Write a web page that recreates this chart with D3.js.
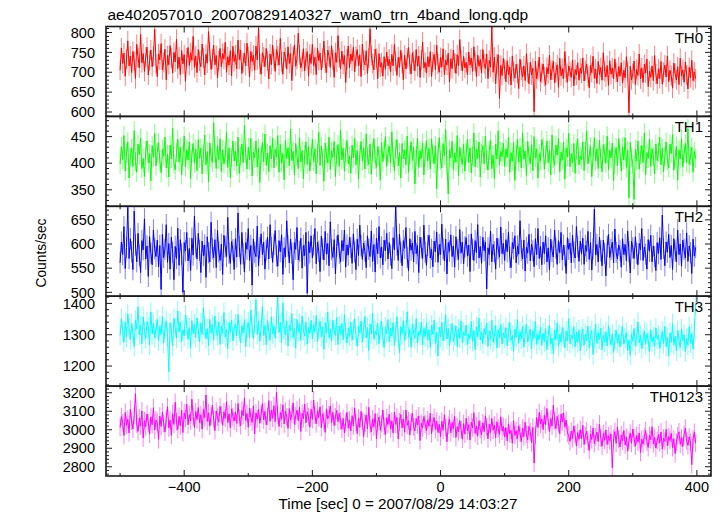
<!DOCTYPE html>
<html><head><meta charset="utf-8">
<script src="https://cdn.jsdelivr.net/npm/d3@7"></script>
<style>body{margin:0;background:#fff} text{font-family:"Liberation Sans",Arial,Helvetica,sans-serif;fill:#000}</style>
</head><body><svg id="c" width="723" height="516"></svg>
<script>
const chartTitle = "ae402057010_20070829140327_wam0_trn_4band_long.qdp";
const xLabel = "Time [sec] 0 = 2007/08/29 14:03:27";
const yLabel = "Counts/sec";
const timeStart = -500, binSize = 2;
const bandNames = ["TH0", "TH1", "TH2", "TH3", "TH0123"];
const bandColors = ["#ff0000", "#00ff00", "#0000ff", "#00ffff", "#ff00ff"];
const bandErrors = [25, 18, 22, 32, 48];
const yDomains = [[589, 815], [319, 488], [492, 678], [1136, 1423], [2750, 3236]];
const yMajorTicks = [[600, 650, 700, 750, 800], [350, 400, 450], [500, 550, 600, 650], [1200, 1300, 1400], [2800, 2900, 3000, 3100, 3200]];
const yMinorStep = [10, 10, 10, 20, 20];
const xDomain = [-522, 422];
const xTickLabels = [-400, -200, 0, 200, 400];
const xMinorTicks = [-500, -300, -100, 100, 300];

const th0 = [
705,761,722,748,690,733,779,716,741,699,752,728,684,770,737,711,795,724,747,702,738,763,693,729,756,714,740,808,721,689,
746,731,772,706,725,758,681,742,719,767,735,698,750,726,783,709,738,694,755,721,744,677,736,762,717,749,730,790,712,741,
699,757,728,714,771,736,693,745,723,802,751,707,734,768,719,742,686,729,760,713,747,733,775,700,739,718,754,691,765,727,
744,709,781,732,756,697,724,748,716,773,739,688,752,727,743,705,766,731,812,720,695,749,738,714,760,729,683,746,719,768,
734,702,757,741,718,785,726,695,751,737,708,764,722,747,679,740,769,715,733,798,744,711,727,759,703,736,752,690,745,722,
770,717,738,694,761,729,748,706,735,778,723,699,756,741,712,767,731,687,749,725,792,737,708,753,720,742,674,733,766,711,
746,728,763,701,739,757,716,744,689,771,730,718,754,697,736,809,742,722,706,758,735,684,747,713,724,690,739,707,751,716,
733,701,745,716,770,727,692,738,712,755,724,681,743,708,736,762,719,696,749,728,704,757,715,741,687,730,776,711,725,698,
739,714,752,689,726,745,707,768,721,700,737,713,759,694,731,718,748,675,734,709,756,723,697,744,716,782,729,703,740,711,
725,694,751,718,736,702,764,727,689,743,715,732,698,757,722,709,746,684,730,713,815,700,738,671,721,744,634,717,692,735,
708,676,729,694,713,668,741,702,685,720,697,659,733,705,688,716,679,747,699,671,725,693,710,601,728,684,704,738,676,697,
721,689,668,712,696,743,681,706,727,673,700,719,662,735,691,709,684,752,698,675,716,702,687,731,666,707,693,724,680,710,
697,736,678,704,721,690,661,718,699,740,685,708,672,727,694,712,680,749,702,688,717,667,729,695,711,683,733,700,676,714,
690,724,673,705,686,739,702,598,715,681,697,728,669,707,692,746,683,711,674,720,698,733,664,703,687,716,679,742,695,671,
709,684,727,670,700,718,688,741,676,705,692,660,723,697,681,714,669,735,690,706,675,726,693,658,712,686,730,679,701,684];

const th1 = [
398,431,407,452,385,419,440,372,412,428,394,461,403,383,436,416,447,390,409,375,424,442,401,418,367,433,411,456,395,420,
439,404,382,426,413,449,391,417,374,434,408,466,399,387,421,445,402,430,378,414,451,393,425,406,440,371,418,437,400,427,
386,444,409,428,380,416,453,397,422,365,438,411,402,476,419,390,433,407,446,384,425,399,414,458,392,429,373,410,442,404,
423,395,449,381,413,436,401,471,418,389,430,406,447,376,421,410,442,393,428,364,415,439,403,455,396,419,384,433,408,447,
391,426,412,452,383,435,401,418,369,443,409,429,395,464,405,422,378,437,414,390,448,402,424,371,416,440,398,431,385,412,
445,403,427,380,419,458,396,432,409,366,438,414,401,449,388,423,411,441,375,417,435,394,462,406,428,385,420,443,399,413,
381,434,410,447,397,424,370,416,441,404,429,389,455,412,398,436,379,421,446,407,392,431,415,368,439,403,426,450,394,418,
432,400,459,411,386,427,444,395,420,372,437,408,425,397,451,383,416,440,405,430,361,413,447,392,423,409,438,378,415,443,
404,428,389,446,417,399,433,352,421,448,406,391,437,414,463,396,342,425,410,441,388,419,402,452,376,430,411,398,436,385,
420,445,401,429,382,414,457,393,426,409,440,374,418,433,399,451,405,387,424,443,390,415,371,436,408,461,397,422,412,438,
394,427,411,449,383,420,404,439,368,416,445,402,430,391,457,408,423,377,441,414,399,435,386,450,410,427,372,418,404,444,
431,389,416,442,401,425,378,453,409,396,434,415,447,384,421,406,439,370,428,412,456,393,418,401,437,381,424,446,397,413,
407,440,386,422,461,399,417,431,375,412,448,404,427,390,443,409,384,435,419,400,451,388,424,410,438,367,415,429,395,446,
418,385,431,406,448,392,424,335,439,411,398,332,426,404,442,389,416,433,401,457,378,420,409,445,394,427,413,380,436,405,
421,449,397,428,384,413,440,406,391,436,418,454,387,410,432,368,425,408,446,393,419,437,401,465,398,414,430,383,422,409];

const th2 = [
561,604,578,636,549,593,676,570,611,584,547,668,598,563,622,577,541,607,588,652,569,596,533,615,581,557,629,590,574,608,
553,597,506,620,572,589,640,562,601,548,614,583,526,595,570,633,556,609,579,500,603,586,624,565,591,545,612,577,658,594,
569,622,587,541,606,576,598,531,615,582,563,645,590,572,609,551,628,584,566,600,537,618,594,574,655,581,560,605,588,547,
611,573,664,595,558,624,580,542,603,589,632,566,597,515,610,583,574,637,555,592,621,578,604,548,587,614,569,640,593,562,
599,628,575,554,607,584,619,537,592,573,648,596,561,610,581,526,603,589,634,567,585,612,550,597,576,624,498,605,582,617,
571,598,632,559,604,585,543,616,590,567,626,579,601,555,646,588,572,609,538,595,619,581,563,607,586,629,552,598,577,614,
593,560,621,584,547,610,576,639,596,568,602,585,551,617,589,574,627,564,599,542,612,580,636,571,594,557,608,586,622,569,
603,577,549,613,588,683,598,566,620,583,555,607,591,634,572,545,611,587,602,563,626,580,597,541,614,592,570,639,583,556,
597,618,571,589,553,606,584,625,562,599,578,641,590,565,610,538,603,585,619,574,596,552,615,588,568,630,581,604,559,594,
613,575,598,543,621,589,566,607,582,640,571,595,560,614,586,604,507,592,578,627,563,599,584,548,612,590,573,635,580,601,
566,609,584,625,572,551,603,590,617,561,596,579,648,587,569,608,544,593,581,620,565,600,586,553,611,578,632,570,595,557,
604,580,617,563,592,546,610,585,573,629,591,558,607,582,624,567,598,576,539,613,589,602,561,618,583,571,636,594,564,606,
579,612,558,597,585,626,568,603,546,590,672,577,599,563,614,586,555,608,581,534,595,620,572,589,604,561,631,583,569,598,
587,552,611,578,599,565,627,584,540,606,592,570,615,581,557,601,588,632,566,594,579,548,609,585,618,563,596,574,545,603,
580,613,568,660,591,555,604,583,620,572,597,547,611,586,563,629,578,600,554,608,589,571,623,564,596,582,539,610,575,593];

const th3 = [
1298,1351,1313,1276,1340,1292,1367,1321,1284,1335,1306,1262,1346,1318,1389,1299,1330,1271,1357,1311,1288,1342,1325,1267,1373,1302,1336,1290,1315,1349,
1281,1327,1301,1358,1273,1319,1344,1295,1182,1337,1308,1264,1352,1323,1289,1376,1309,1341,1278,1316,1296,1363,1331,1285,1322,1258,1345,1304,1334,1291,
1354,1312,1277,1338,1300,1386,1326,1287,1319,1266,1349,1305,1332,1283,1360,1314,1297,1341,1269,1328,1303,1371,1293,1317,1256,1339,1309,1347,1280,1321,
1334,1296,1365,1311,1274,1329,1305,1348,1261,1318,1340,1292,1379,1324,1287,1336,1412,1301,1343,1279,1320,1390,1297,1331,1268,1345,1310,1283,1357,1303,
1327,1289,1352,1420,1307,1338,1275,1402,1316,1299,1344,1264,1330,1313,1368,1291,1321,1257,1349,1308,1335,1282,1360,1315,1296,1341,1270,1324,1305,1346,
1287,1332,1309,1361,1278,1318,1343,1294,1325,1253,1339,1306,1372,1291,1319,1280,1347,1312,1298,1355,1269,1328,1301,1336,1284,1364,1307,1273,1322,1295,
1340,1282,1315,1351,1297,1263,1327,1306,1344,1276,1318,1358,1290,1323,1249,1334,1303,1369,1286,1312,1299,1337,1271,1316,1342,1292,1259,1325,1304,1348,
1277,1321,1296,1339,1266,1310,1357,1289,1243,1326,1302,1345,1281,1314,1373,1292,1317,1260,1333,1305,1288,1351,1274,1311,1298,1340,1268,1320,1294,1336,
1283,1316,1259,1330,1301,1346,1272,1308,1232,1324,1293,1339,1280,1312,1364,1286,1321,1265,1305,1335,1278,1299,1328,1261,1318,1290,1344,1275,1309,1297,
1331,1268,1303,1287,1342,1279,1314,1252,1326,1294,1353,1283,1308,1271,1320,1299,1337,1262,1311,1285,1346,1276,1300,1329,1257,1316,1291,1333,1270,1306,
1289,1323,1264,1306,1339,1281,1298,1247,1317,1292,1348,1273,1310,1286,1327,1260,1302,1334,1277,1296,1318,1255,1313,1288,1342,1269,1301,1283,1325,1266,
1305,1278,1320,1252,1296,1331,1270,1289,1240,1315,1284,1338,1263,1302,1276,1323,1294,1258,1312,1280,1352,1271,1299,1287,1326,1261,1308,1275,1316,1249,
1293,1318,1266,1302,1280,1327,1257,1296,1313,1237,1287,1334,1272,1305,1285,1321,1252,1298,1276,1310,1264,1329,1290,1268,1303,1243,1284,1315,1274,1300,
1261,1296,1326,1270,1289,1307,1250,1283,1234,1301,1279,1320,1265,1292,1341,1274,1298,1256,1287,1311,1269,1304,1282,1245,1316,1277,1293,1263,1322,1286,
1299,1257,1284,1310,1271,1327,1262,1291,1232,1305,1276,1336,1268,1295,1248,1313,1283,1259,1319,1281,1300,1246,1288,1266,1326,1273,1302,1254,1318,1398];

const th0123 = [
3012,3071,3038,2969,3094,3025,3057,2983,3110,3046,3004,3078,3195,3031,2991,3063,3020,3102,2955,3049,3016,3085,3037,2976,3068,3028,3119,2999,3053,3041,
2947,3074,3018,3096,3033,2988,3061,3125,3010,3052,2970,3087,3029,3148,3043,3001,3072,3021,3106,2985,3091,3060,3139,3027,3082,3048,3165,3070,3012,3098,
3055,3120,3037,3081,3003,3109,3066,3188,3045,3092,3019,3074,3133,3058,2995,3101,3067,3041,3126,3080,3024,3097,3061,3152,3039,3086,3010,3113,3071,3047,
3095,3034,3142,3063,3021,3104,3076,3172,3050,3088,3013,3117,3069,3040,3129,2978,3091,3058,3110,3035,3083,3141,3053,3099,3027,3072,3158,3046,3107,3062,
3130,3043,3203,3079,3018,3093,3057,3136,3031,3100,3068,3008,3115,3052,3084,3145,3029,3075,3106,3049,3121,2991,3089,3060,3139,3037,3097,3071,3014,3111,
3056,3161,3081,3032,3103,3066,3124,3011,3087,3047,2986,3113,3059,3078,3129,3038,3094,3023,3070,3105,3044,3087,3048,3003,3061,2982,3040,3094,3009,3052,
2993,3076,3021,3118,3039,2979,3064,3012,3099,3046,2962,3035,3080,3005,3121,3027,2988,3058,3016,3087,2950,3041,3070,2997,3034,3107,3019,2974,3065,3028,
3085,3006,3047,2983,3096,3030,3067,2950,3043,3082,3011,3058,2987,3107,3024,3049,2971,3039,3090,3015,2993,3061,3026,3075,2942,3036,3009,3072,3031,2996,
3054,3019,3090,2978,3038,3066,3002,3047,2985,3029,2963,3046,2997,3081,3012,2935,3024,3058,2984,3039,3006,3072,2958,3017,2989,3050,3001,2949,3033,2976,
3062,2993,3027,2944,3041,3010,3092,2980,3020,2965,3049,3003,2972,3037,2990,3075,3015,2951,3031,2986,3061,2998,3026,2957,3043,3008,2975,3070,2992,3019,
2961,3012,2940,3031,2978,2997,2927,3049,2970,2995,2950,3021,2983,2936,3008,2962,3041,2975,2946,3018,2989,2930,3013,2820,2974,3066,3012,3094,3031,3058,
3001,3079,3027,3115,3046,2988,3061,3020,3133,3049,3006,3072,3034,2979,3086,3043,3091,3014,3052,2982,2968,2937,2993,2952,3021,2975,2912,2984,2948,3001,
2950,3024,2921,2968,2993,2935,2889,2976,2947,3010,2925,2962,2987,2936,3031,2954,2911,2980,2943,2999,2920,2967,2941,2978,2795,2953,2990,2926,3015,2948,
2907,2972,2939,2996,2918,2960,2884,2944,2981,2927,3004,2955,2911,2969,2933,2983,2877,2949,2923,2962,2996,2935,2904,2970,2946,3016,2924,2958,2901,2942,
2973,2929,2988,2895,2955,2937,3002,2914,2962,2943,2980,2903,2951,2871,2934,2968,2989,2921,2957,2909,2975,3009,2940,2916,2961,2932,2812,2950,2986,2927];

const bandValues = [th0, th1, th2, th3, th0123];

const svg = d3.select("#c");
const left = 106, right = 711, top0 = 26.5, panelH = 89.9;
const x = d3.scaleLinear().domain(xDomain).range([left, right]);
const axisColor = "#1a1a1a";

bandValues.forEach((vals, p) => {
  const top = top0 + p * panelH, bottom = top + panelH;
  const y = d3.scaleLinear().domain(yDomains[p]).range([bottom, top]);
  const g = svg.append("g");
  const clipId = "clip" + p;
  svg.append("clipPath").attr("id", clipId).append("rect")
    .attr("x", left).attr("y", top).attr("width", right - left).attr("height", panelH);
  const data = vals.map((v, i) => ({t: timeStart + i * binSize, v}));
  const dg = g.append("g").attr("clip-path", `url(#${clipId})`);
  const err = bandErrors[p];
  dg.selectAll("line.err").data(data).enter().append("line")
    .attr("x1", d => x(d.t)).attr("x2", d => x(d.t))
    .attr("y1", d => y(d.v - err)).attr("y2", d => y(d.v + err))
    .attr("stroke", bandColors[p]).attr("stroke-opacity", 0.5).attr("stroke-width", 1);
  dg.append("path").datum(data)
    .attr("d", d3.line().x(d => x(d.t)).y(d => y(d.v)))
    .attr("fill", "none").attr("stroke", bandColors[p]).attr("stroke-width", 1);

  const [d0, d1] = yDomains[p];
  const minor = d3.range(Math.ceil(d0 / yMinorStep[p]) * yMinorStep[p], d1, yMinorStep[p]);
  minor.forEach(v => {
    const isMajor = yMajorTicks[p].includes(v);
    const len = isMajor ? 6 : 3;
    g.append("line").attr("x1", left).attr("x2", left + len).attr("y1", y(v)).attr("y2", y(v))
      .attr("stroke", axisColor).attr("stroke-width", 1);
    g.append("line").attr("x1", right).attr("x2", right - len).attr("y1", y(v)).attr("y2", y(v))
      .attr("stroke", axisColor).attr("stroke-width", 1);
  });
  yMajorTicks[p].forEach(v => {
    g.append("text").attr("x", 95).attr("y", y(v)).attr("dy", "0.36em")
      .attr("text-anchor", "end").style("font-size", "14.5px").text(v);
  });
  [[xTickLabels, 6], [xMinorTicks, 3]].forEach(([ticks, len]) => {
    ticks.forEach(t => {
      g.append("line").attr("x1", x(t)).attr("x2", x(t)).attr("y1", top).attr("y2", top + len)
        .attr("stroke", axisColor).attr("stroke-width", 1);
      g.append("line").attr("x1", x(t)).attr("x2", x(t)).attr("y1", bottom).attr("y2", bottom - len)
        .attr("stroke", axisColor).attr("stroke-width", 1);
    });
  });
  g.append("rect").attr("x", left).attr("y", top).attr("width", right - left).attr("height", panelH)
    .attr("fill", "none").attr("stroke", axisColor).attr("stroke-width", 1.6);
  g.append("text").attr("x", 703).attr("y", top + 16).attr("text-anchor", "end")
    .style("font-size", "15px").text(bandNames[p]);
});

const bottomY = top0 + 5 * panelH;
xTickLabels.forEach(t => {
  svg.append("text").attr("x", x(t)).attr("y", bottomY + 16).attr("text-anchor", "middle")
    .style("font-size", "14.5px").text(t < 0 ? "\u2212" + Math.abs(t) : String(t));
});
svg.append("text").attr("x", 398).attr("y", 509).attr("text-anchor", "middle")
  .style("font-size", "15.2px").text(xLabel);
svg.append("text").attr("transform", "translate(45.5,253) rotate(-90)").attr("text-anchor", "middle")
  .style("font-size", "13.8px").text(yLabel);
svg.append("text").attr("x", 107.5).attr("y", 19.5).style("font-size", "15.5px").text(chartTitle);
</script></body></html>
